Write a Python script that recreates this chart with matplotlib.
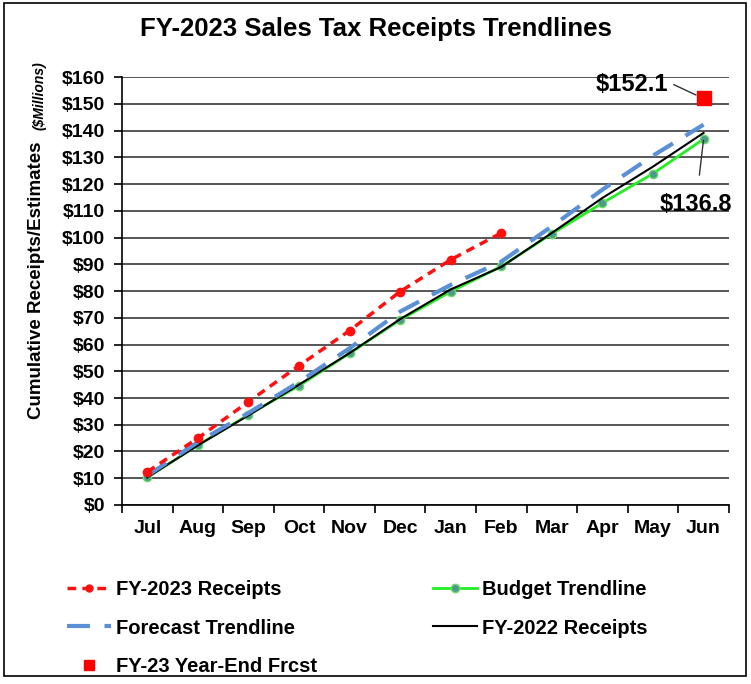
#cumulative sales tax receipts vs trendlines, FY-2023
import numpy as np
from matplotlib import pyplot as plt
from matplotlib.patches import Rectangle

plt.rcParams['font.family'] = ['Liberation Sans', 'DejaVu Sans']

months = ["Jul", "Aug", "Sep", "Oct", "Nov", "Dec", "Jan", "Feb", "Mar", "Apr", "May", "Jun"]
fy23_receipts = [12.4, 25.0, 38.6, 52.1, 65.2, 79.8, 91.7, 101.7]
budget_trend = [10.3, 22.4, 33.7, 44.6, 56.7, 69.2, 79.8, 89.2, 101.4, 112.9, 123.9, 136.8]
forecast_trend = [11.0, 23.5, 34.4, 46.0, 58.6, 72.3, 82.3, 91.0, 104.2, 117.9, 130.6, 142.2]
fy22_receipts = [10.3, 22.3, 33.5, 45.0, 56.8, 69.5, 80.6, 89.0, 101.7, 114.8, 126.5, 139.1]
ye_forecast = 152.1
yticks = np.arange(0, 161, 10)

x = np.arange(len(months))

fig = plt.figure(figsize=(7.51, 6.84), dpi=100)
ax = fig.add_axes([0.1625, 0.2617, 0.808, 0.6257])

ax.plot(x, budget_trend, color='#22ee22', lw=2, marker='o', ms=6,
        mfc='#4d9a8a', mec='#66dd66', mew=1, label='Budget Trendline', zorder=3)
ax.plot(x, fy22_receipts, color='black', lw=1.5, label='FY-2022 Receipts', zorder=4)
ax.plot(x, forecast_trend, color='#5b8fd6', lw=3, dashes=(5.5, 3.5), label='Forecast Trendline', zorder=5)
ax.plot(x[:len(fy23_receipts)], fy23_receipts, color='#ff1010', lw=2.5, dashes=(2.5, 1.8),
        marker='o', ms=6, label='FY-2023 Receipts', zorder=6)
ax.plot([x[-1]], [ye_forecast], ls='none', marker='s', ms=10, color='#ff0000',
        label='FY-23 Year-End Frcst', zorder=7)

# value callouts
ax.annotate('$' + f'{ye_forecast:.1f}', xy=(x[-1] - 0.05, ye_forecast + 0.3),
            xytext=(x[-1] - 0.7, ye_forecast + 5.2), ha='right', va='center',
            fontsize=17, fontweight='bold',
            arrowprops=dict(arrowstyle='-', color='#333333', lw=1, shrinkA=2, shrinkB=4,
                            connectionstyle='angle,angleA=0,angleB=-25,rad=0'))
ax.annotate('$' + f'{budget_trend[-1]:.1f}', xy=(x[-1], budget_trend[-1]),
            xytext=(x[-1] - 0.15, budget_trend[-1] - 24.5), ha='center', va='center',
            fontsize=17, fontweight='bold',
            arrowprops=dict(arrowstyle='-', color='#333333', lw=1, shrinkA=11, shrinkB=1))

ax.set_xlim(-0.5, len(months) - 0.5)
ax.set_ylim(0, 160)
ax.set_yticks(yticks)
ax.set_yticklabels(['$' + str(v) for v in yticks], fontsize=14, fontweight='bold')
ax.set_xticks(x)
ax.set_xticklabels(months, fontsize=14, fontweight='bold')
ax.set_xticks(np.arange(-0.5, len(months)), minor=True)
ax.tick_params(axis='x', which='major', length=0, pad=11)
ax.tick_params(axis='x', which='minor', length=6, width=1.2, direction='out')
ax.tick_params(axis='y', length=6, width=1.2, direction='out', pad=6)
ax.grid(axis='y', color='#3a3a3a', lw=1.2)
ax.set_axisbelow(True)
for s in ['top', 'right']:
    ax.spines[s].set_visible(False)
for s in ['left', 'bottom']:
    ax.spines[s].set_linewidth(1.2)

fig.text(0.5, 0.958, 'FY-2023 Sales Tax Receipts Trendlines', ha='center', va='center',
         fontsize=18.5, fontweight='bold')
fig.text(0.049, 0.388, 'Cumulative Receipts/Estimates', rotation=90, ha='center', va='bottom',
         fontsize=13.5, fontweight='bold')
fig.text(0.053, 0.81, '($Millions)', rotation=90, ha='center', va='bottom',
         fontsize=10, fontstyle='italic', fontweight='bold')

handles, labels = ax.get_legend_handles_labels()
order = [3, 2, 4, 0, 1]
leg = fig.legend([handles[i] for i in order], [labels[i] for i in order], ncol=2,
                 loc='upper left', bbox_to_anchor=(0.065, 0.178), frameon=False,
                 prop=dict(size=14.5, weight='bold'), handlelength=2.2, handletextpad=0.25,
                 columnspacing=5.75, labelspacing=0.95)
leg.legend_handles[2].set_markersize(7)
leg.legend_handles[0].set_markersize(5)

fig.patches.append(Rectangle((0.005, 0.012), 0.988, 0.983, transform=fig.transFigure,
                             fill=False, ec='black', lw=1.2))

fig.savefig('out.png', dpi=100)
